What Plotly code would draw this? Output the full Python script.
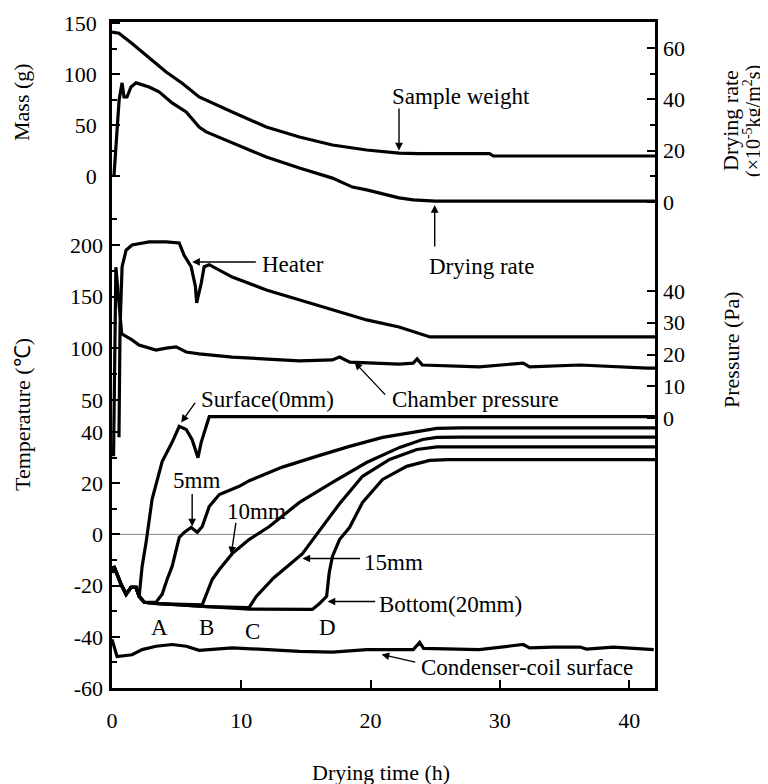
import plotly.graph_objects as go

# ---------------- data ----------------
# Sample weight (g) -> left "Mass" scale
sw_t = [0, 0.54, 1.55, 2.87, 4.19, 5.43, 6.74, 9.3, 11.94, 14.5, 17.05, 19.7, 22.2, 23.7, 29.2, 29.5, 42]
sw_v = [141, 140, 130, 116, 102, 91, 77.5, 62.7, 48, 38.2, 30.4, 25.5, 22.5, 22, 22, 19.6, 19.6]

# Drying rate (x10^-5 kg/m2 s) -> right upper scale
dr_t = [0.15, 0.35, 0.55, 0.78, 0.93, 1.16, 1.47, 1.86, 2.87, 3.64, 4.65, 5.74, 6.74, 7.29, 9.3,
        11.94, 14.5, 17.05, 18.6, 19.7, 22.2, 23.3, 25, 42]
dr_v = [10, 27, 39.7, 46.4, 40.9, 40.9, 44.8, 46.4, 44.8, 42.9, 38.6, 35.1, 29.2, 27.3, 23.0,
        17.5, 13.2, 9.3, 5.8, 4.7, 1.6, 0.8, 0.3, 0.3]

# Heater temperature (C) -> left upper temperature scale
ht_t = [0.54, 0.62, 0.78, 1.09, 1.55, 2.87, 4.19, 5.2, 5.58, 6.12, 6.45, 6.55, 6.9, 7.13, 7.52,
        9.3, 11.94, 14.5, 17.05, 19.7, 22.2, 24.6, 42]
ht_v = [14, 120, 179, 195, 200, 203, 203, 202, 190, 179, 160, 144, 163, 179, 181,
        169, 156.5, 147, 137, 127.5, 120.7, 111, 111]

# Chamber pressure (Pa) -> right lower scale
cp_t = [0.12, 0.3, 0.75, 1.55, 2.09, 3.41, 4.19, 4.96, 5.74, 6.74, 9.3, 11.94, 14.5, 17.05, 17.6,
        18.4, 22.2, 23.3, 23.6, 24.0, 28.4, 31.8, 32.3, 36.2, 38.8, 41.4, 42]
cp_v = [-12, 47.5, 26.5, 24.6, 23, 21.4, 22, 22.4, 20.8, 20.2, 19.2, 18.6, 18, 18.3, 19.2,
        17.6, 17, 17.3, 18.6, 16.7, 16.1, 17.3, 16.1, 16.7, 16.1, 15.7, 15.7]

# Sample temperatures (C) -> left lower temperature scale
start_t = [0, 0.15, 0.7, 1.09, 1.47, 1.86, 2.1]
start_v = [-15, -12.5, -19.5, -23.4, -20.7, -20.7, -24.2]

surf_t = start_t + [2.33, 2.64, 3.1, 3.88, 4.65, 5.2, 5.74, 6.2, 6.55, 6.65, 6.9, 7.52, 42]
surf_v = start_v + [-12.5, -3, 13.7, 28.5, 36, 42.2, 41, 37, 31, 30, 36, 46, 46]

mm5_t = start_t + [2.5, 3.41, 3.88, 4.26, 4.65, 5.2, 5.58, 6.12, 6.6, 6.98, 7.52, 8.3, 9.84, 10.62,
                   13.18, 15.81, 18.37, 20.93, 23.57, 25.12, 27, 42]
mm5_v = start_v + [-26.5, -26.5, -23.4, -17.6, -12.5, -1.2, 0.8, 2.7, 0.8, 3.1, 10.9, 15.6, 18.8, 21,
                   26.3, 30.5, 34.4, 37.9, 40.2, 41.4, 41.6, 41.6]

mm10_t = start_t + [2.5, 3.41, 6.98, 7.75, 8.3, 9.3, 10.6, 12.17, 14.5, 17.05, 19.69, 22.25, 24.03,
                    25.12, 27, 42]
mm10_v = start_v + [-26.5, -27, -27.5, -17.6, -13.7, -7.5, -2, 3.1, 12.5, 20.3, 28.1, 34, 37.1,
                    37.9, 38, 38]

mm15_t = start_t + [2.5, 3.41, 7.3, 10.6, 11.16, 12.5, 14.73, 16.05, 17.6, 19.38, 21.47, 23.57,
                    25.12, 27, 42]
mm15_v = start_v + [-26.5, -27, -28.2, -28.6, -24.2, -17, -7.5, 1.5, 12, 22.7, 29.3, 33.2,
                    34.2, 34.2, 34.2]

bot_t = start_t + [2.5, 3.41, 7.3, 10.6, 15.5, 16.05, 16.6, 16.8, 17.05, 17.6, 18.37, 19.38, 20.93,
                   22.79, 24.57, 26, 42]
bot_v = start_v + [-26.5, -27, -28.2, -29.2, -29.3, -27, -24.2, -15, -8.6, -2, 2.7, 12.5, 21.5,
                   26.6, 28.9, 29.2, 29.2]

cond_t = [0, 0.39, 1.55, 2.33, 3.41, 4.65, 5.74, 6.74, 9.3, 11.94, 14.5, 17.05, 19.7, 22.2, 23.3,
          23.8, 24.1, 28.4, 31.8, 32.3, 34.1, 36.2, 36.7, 38.8, 41.9]
cond_v = [-41, -47.7, -47, -45, -43.7, -43, -43.7, -45.3, -44.3, -45, -45.7, -46, -45, -45, -45,
          -42.2, -44.5, -45, -43, -44.3, -44, -44, -44.8, -44, -45]

# Axis ticks
x_ticks = [0, 10, 20, 30, 40]
mass_ticks = [0, 50, 100, 150]
mass_minor = [25, 75, 125]
tup_ticks = [50, 100, 150, 200]
tup_minor = [75, 125, 175, 225]
tlo_ticks = [-60, -40, -20, 0, 20, 40]
tlo_text = ["-60", "-40", "-20", "0", "20", "40"]
tlo_minor = [-50, -30, -10, 10, 30]
rate_ticks = [0, 20, 40, 60]
rate_minor = [10, 30, 50]
pres_ticks = [0, 10, 20, 30, 40]

# ---------------- figure ----------------
FONT = "Liberation Serif"
LW = 3.2
line = dict(color="black", width=LW)

fig = go.Figure()
fig.add_trace(go.Scatter(x=sw_t, y=sw_v, mode="lines", line=line, yaxis="y", name="Sample weight"))
fig.add_trace(go.Scatter(x=dr_t, y=dr_v, mode="lines", line=line, yaxis="y4", name="Drying rate"))
fig.add_trace(go.Scatter(x=ht_t, y=ht_v, mode="lines", line=line, yaxis="y2", name="Heater"))
fig.add_trace(go.Scatter(x=cp_t, y=cp_v, mode="lines", line=line, yaxis="y5", name="Chamber pressure"))
for t, v, n in [(surf_t, surf_v, "Surface"), (mm5_t, mm5_v, "5mm"), (mm10_t, mm10_v, "10mm"),
                (mm15_t, mm15_v, "15mm"), (bot_t, bot_v, "Bottom"), (cond_t, cond_v, "Condenser")]:
    fig.add_trace(go.Scatter(x=t, y=v, mode="lines", line=line, yaxis="y3", name=n))

tickfont = dict(family=FONT, size=22, color="black")
common = dict(showgrid=False, zeroline=False, ticks="inside", ticklen=8, tickwidth=2,
              tickcolor="black", tickfont=tickfont, tickmode="array", fixedrange=True,
              automargin=False)
minor_style = dict(ticks="inside", ticklen=5, tickwidth=1.5, tickcolor="black")

# the page has an 8 px body margin, so the figure is 8 px smaller and margins shifted
fig.update_layout(
    width=760, height=776,
    margin=dict(l=104, r=113, t=14, b=96, autoexpand=False),
    paper_bgcolor="white", plot_bgcolor="white",
    showlegend=False,
    font=dict(family=FONT, size=22, color="black"),
    xaxis=dict(range=[0, 42], tickvals=x_ticks, showline=True, linewidth=2.5, linecolor="black",
               mirror=True, ticklabelstandoff=11, **common),
    yaxis=dict(range=[-502, 151], tickvals=mass_ticks, showline=True, linewidth=2.5,
               linecolor="black", mirror=True, side="left", ticklabelstandoff=8,
               minor=dict(tickvals=mass_minor, **minor_style), **common),
    yaxis2=dict(range=[-228.8, 415.9], tickvals=tup_ticks, overlaying="y", side="left", anchor="x",
                showline=False, ticklabelstandoff=8,
                minor=dict(tickvals=tup_minor, **minor_style), **common),
    yaxis3=dict(range=[-60, 200.2], tickvals=tlo_ticks, ticktext=tlo_text, overlaying="y",
                side="left", anchor="x", showline=False, ticklabelstandoff=8,
                minor=dict(tickvals=tlo_minor, **minor_style), **common),
    yaxis4=dict(range=[-189.3, 70.1], tickvals=rate_ticks, overlaying="y", side="right", anchor="x",
                showline=False, ticklabelstandoff=7,
                minor=dict(tickvals=rate_minor, **minor_style), **common),
    yaxis5=dict(range=[-85, 124.7], tickvals=pres_ticks, overlaying="y", side="right", anchor="x",
                showline=False, ticklabelstandoff=7, **common),
)

# thin zero line of the temperature scale
fig.add_shape(type="line", xref="x domain", x0=0, x1=1, yref="y3", y0=0, y1=0,
              line=dict(color="#8a8a8a", width=1), layer="below")

# ----- axis titles (page pixel -> paper helpers) -----
L, R, T, B = 112, 655, 22, 688
def px(xp):
    return (xp - L) / (R - L)
def py(yp):
    return (B - yp) / (B - T)

titles = [
    ("Mass (g)", 22, 102, -90, 22),
    ("Temperature (℃)", 22, 415, -90, 22),
    ("Drying rate", 730, 121, -90, 22),
    ("(×10<sup>-5</sup>kg/m<sup>2</sup>s)", 752, 121, -90, 20),
    ("Pressure (Pa)", 731, 350, -90, 22),
    ("Drying time (h)", 381, 772, 0, 22),
]
for txt, xp, yp, ang, fs in titles:
    fig.add_annotation(text=txt, xref="paper", yref="paper", x=px(xp), y=py(yp),
                       showarrow=False, textangle=ang, xanchor="center", yanchor="middle",
                       font=dict(family=FONT, size=fs, color="black"))

# ----- curve labels -----
labels = [
    ("Sample weight", 27.0, 77.5, "y"),
    ("Drying rate", 28.6, -25.3, "y4"),
    ("Heater", 14.0, 180.7, "y2"),
    ("Chamber pressure", 28.1, 5.7, "y5"),
    ("Surface(0mm)", 12.0, 52.7, "y3"),
    ("5mm", 6.5, 21.1, "y3"),
    ("10mm", 11.2, 9.0, "y3"),
    ("15mm", 21.8, -10.9, "y3"),
    ("Bottom(20mm)", 26.2, -27.3, "y3"),
    ("Condenser-coil surface", 32.1, -52.0, "y3"),
    ("A", 3.64, -36.3, "y3"),
    ("B", 7.29, -36.3, "y3"),
    ("C", 10.85, -37.8, "y3"),
    ("D", 16.67, -36.3, "y3"),
]
for txt, xv, yv, yr in labels:
    fig.add_annotation(text=txt, x=xv, y=yv, xref="x", yref=yr, showarrow=False,
                       xanchor="center", yanchor="middle",
                       font=dict(family=FONT, size=23, color="black"))

# ----- arrows: (head x, head y, tail x, tail y, axis) -----
arrows = [
    (22.2, 25.0, 22.2, 67.6, "y"),
    (24.96, -1.2, 24.96, -17.9, "y4"),
    (6.2, 183.6, 11.24, 183.6, "y2"),
    (18.76, 17.6, 21.24, 6.9, "y5"),
    (5.35, 43.75, 6.51, 51.95, "y3"),
    (6.2, 3.1, 6.2, 16.4, "y3"),
    (9.22, -7.8, 9.6, 5.1, "y3"),
    (14.73, -9.4, 19.3, -9.4, "y3"),
    (16.67, -26.2, 20.47, -26.2, "y3"),
    (20.85, -46.9, 23.57, -50.0, "y3"),
]
for hx, hy, tx, ty, yr in arrows:
    fig.add_annotation(text="", x=hx, y=hy, xref="x", yref=yr, ax=tx, ay=ty, axref="x", ayref=yr,
                       showarrow=True, arrowhead=2, arrowsize=1.1, arrowwidth=1.4, arrowcolor="black")

fig.write_html("out.html")
